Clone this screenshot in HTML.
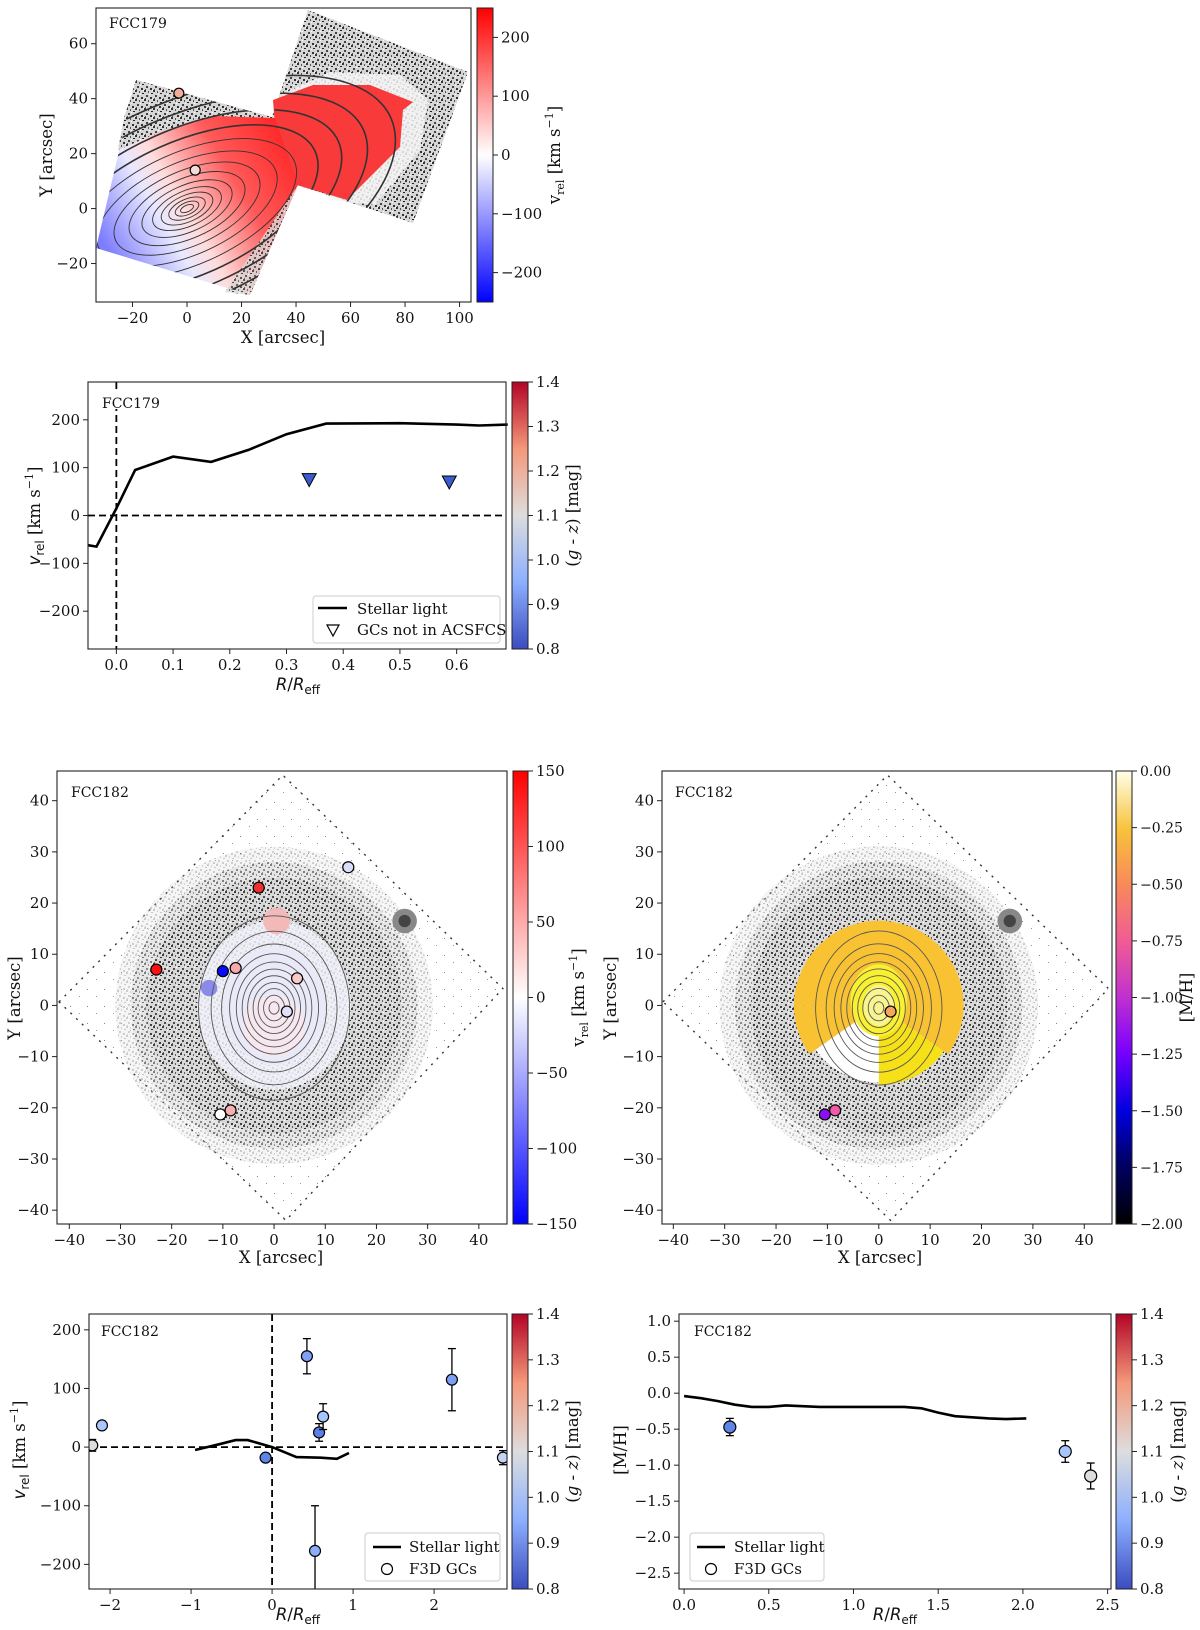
<!DOCTYPE html>
<html><head><meta charset="utf-8"><style>
html,body{margin:0;padding:0;background:#fff;}
svg{display:block;font-family:"DejaVu Serif","Liberation Serif",serif;}
</style></head><body>
<svg id="fig" width="1200" height="1630" viewBox="0 0 1200 1630" xmlns="http://www.w3.org/2000/svg">
<defs>
  <pattern id="stip" width="9" height="9" patternUnits="userSpaceOnUse">
    <rect width="9" height="9" fill="#d6d6d6"/>
    <rect x="0" y="0" width="2" height="2" fill="#333"/><rect x="4" y="1" width="1" height="2" fill="#555"/>
    <rect x="7" y="3" width="2" height="1" fill="#222"/><rect x="2" y="5" width="2" height="2" fill="#444"/>
    <rect x="6" y="7" width="2" height="2" fill="#333"/><rect x="1" y="8" width="1" height="1" fill="#555"/>
    <rect x="5" y="4" width="1" height="1" fill="#fff"/><rect x="8" y="0" width="1" height="1" fill="#fff"/>
  </pattern>
  <pattern id="stipL" width="17" height="17" patternUnits="userSpaceOnUse">
    <rect width="17" height="17" fill="#fff"/>
    <rect x="2" y="3" width="1" height="1" fill="#888"/><rect x="11" y="10" width="1" height="1" fill="#999"/>
  </pattern>
  <linearGradient id="bwr" x1="0" y1="1" x2="0" y2="0">
    <stop offset="0" stop-color="#0000ff"/><stop offset="0.5" stop-color="#ffffff"/><stop offset="1" stop-color="#ff0000"/>
  </linearGradient>
  <linearGradient id="cw" x1="0" y1="1" x2="0" y2="0">
    <stop offset="0" stop-color="#3b4cc0"/><stop offset="0.25" stop-color="#8caffe"/><stop offset="0.5" stop-color="#dddddd"/><stop offset="0.75" stop-color="#f4987a"/><stop offset="1" stop-color="#b40426"/>
  </linearGradient>
  <linearGradient id="gp" x1="0" y1="1" x2="0" y2="0">
    <stop offset="0" stop-color="#000000"/><stop offset="0.14" stop-color="#00006a"/><stop offset="0.25" stop-color="#0000e0"/>
    <stop offset="0.38" stop-color="#7a00ff"/><stop offset="0.5" stop-color="#c030d0"/><stop offset="0.62" stop-color="#f05a96"/>
    <stop offset="0.75" stop-color="#f88a5a"/><stop offset="0.87" stop-color="#f8c23a"/><stop offset="1" stop-color="#ffffe8"/>
  </linearGradient>
  <linearGradient id="velL" gradientUnits="userSpaceOnUse" x1="110" y1="255" x2="290" y2="150">
    <stop offset="0" stop-color="#7d7dff"/><stop offset="0.3" stop-color="#e8e8ff"/><stop offset="0.42" stop-color="#ffdcdc"/><stop offset="0.7" stop-color="#ff5a5a"/><stop offset="1" stop-color="#ff2a2a"/>
  </linearGradient>
  <clipPath id="fieldBoth">
    <polygon points="136,80 275,118 298,185 250,295 96,248"/>
    <polygon points="308,10 468,72 413,223 297,185 272,117"/>
  </clipPath>
</defs>
<g id="root"></g>
</svg>
<script>
// ---------- DATA ----------
const gc179X = [-3, 3];
const gc179Y = [42, 14];
const gc179Col = ['#f4ab9c', '#f3dcd6'];
const p2LineR = [-0.05, -0.035, 0.0, 0.033, 0.1, 0.167, 0.233, 0.3, 0.37, 0.5, 0.6, 0.64, 0.69];
const p2LineV = [-62, -65, 15, 95, 123, 112, 137, 170, 192, 193, 190, 188, 190];
const p2TriR = [0.34, 0.587];
const p2TriV = [75, 70];
const p2Xticks = [0.0, 0.1, 0.2, 0.3, 0.4, 0.5, 0.6];
const p2Yticks = [-200, -100, 0, 100, 200];
const gc182X = [14.5, -3, -23, -10, -7.5, 4.5, 2.5, -10.5, -8.5];
const gc182Y = [27, 23, 7, 6.7, 7.3, 5.3, -1.2, -21.3, -20.5];
const gc182VelCol = ['#dcdcfc', '#f03030', '#ff1010', '#0a0aff', '#f8aaaa', '#f9c8c8', '#e0e0f8', '#ffffff', '#f6b0b0'];
const gcMX = [2.3, -10.5, -8.5];
const gcMY = [-1.2, -21.3, -20.5];
const gcMCol = ['#f6a75e', '#8b10f2', '#f05aa8'];
const p5LineR = [-0.95, -0.65, -0.45, -0.3, 0.0, 0.3, 0.6, 0.8, 0.95];
const p5LineV = [-5, 5, 12, 12, 0, -17, -18, -20, -10];
const p5GcR = [-2.22, -2.1, -0.08, 0.43, 0.58, 0.63, 0.53, 2.22, 2.85];
const p5GcV = [3, 37, -18, 155, 25, 52, -177, 115, -18];
const p5GcErrUp = [10, 0, 0, 30, 15, 22, 77, 53, 12];
const p5GcErrDn = [10, 0, 0, 30, 15, 22, 80, 53, 12];
const p5GcCol = ['#dddddd', '#a9c6fd', '#5f84e8', '#7fa0f5', '#5b7fe5', '#a6c4fd', '#8caefa', '#7b9ff3', '#c4d5f3'];
const p5Xticks = [-2, -1, 0, 1, 2];
const p5Yticks = [-200, -100, 0, 100, 200];
const p6LineR = [0, 0.1, 0.2, 0.3, 0.4, 0.5, 0.6, 0.8, 1.0, 1.2, 1.3, 1.4, 1.5, 1.6, 1.8, 1.9, 2.02];
const p6LineM = [-0.04, -0.07, -0.11, -0.16, -0.19, -0.19, -0.17, -0.19, -0.19, -0.19, -0.19, -0.21, -0.27, -0.32, -0.35, -0.36, -0.35];
const p6GcR = [0.27, 2.25, 2.4];
const p6GcM = [-0.47, -0.81, -1.15];
const p6GcErr = [0.12, 0.15, 0.18];
const p6GcCol = ['#5f84e8', '#a6c4fd', '#dddddd'];
const p6Xticks = [0.0, 0.5, 1.0, 1.5, 2.0, 2.5];
const p6Yticks = [1.0, 0.5, 0.0, -0.5, -1.0, -1.5, -2.0, -2.5];

// ---------- HELPERS ----------
const NS = 'http://www.w3.org/2000/svg';
const root = document.getElementById('root');
function el(tag, attrs, parent) {
  const e = document.createElementNS(NS, tag);
  for (const k in attrs) e.setAttribute(k, attrs[k]);
  (parent || root).appendChild(e);
  return e;
}
function txt(s, x, y, size, anchor, parent) {
  const t = el('text', {x: x, y: y, 'font-size': size, 'text-anchor': anchor || 'middle', fill: '#111'}, parent);
  t.textContent = s;
  return t;
}
function fmt(v, d) { const s = v.toFixed(d); return v < 0 ? '\u2212' + s.slice(1) : s; }
function lin(d0, d1, r0, r1) { return v => r0 + (v - d0) / (d1 - d0) * (r1 - r0); }
function frame(x0, y0, x1, y1, name) {
  const r = el('rect', {x: x0, y: y0, width: x1 - x0, height: y1 - y0, fill: 'none', stroke: '#222', 'stroke-width': 1.1});
  
  
}
function xticks(vals, sx, yb, dec, name) {
  const g = el('g', {});
  
  
  vals.forEach(v => {
    const x = sx(v);
    el('line', {x1: x, x2: x, y1: yb, y2: yb + 5, stroke: '#222', 'stroke-width': 1}, g);
    txt(fmt(v, dec), x, yb + 21, 15, 'middle', g);
  });
}
function yticks(vals, sy, xl, dec, name) {
  const g = el('g', {});
  
  
  vals.forEach(v => {
    const y = sy(v);
    el('line', {x1: xl - 5, x2: xl, y1: y, y2: y, stroke: '#222', 'stroke-width': 1}, g);
    txt(fmt(v, dec), xl - 8, y + 5, 15, 'end', g);
  });
}
function colorbar(x0, y0, x1, y1, grad, ticks, d0, d1, dec, label, labelX, name, fs) {
  const g = el('g', {});
  
  
  el('rect', {x: x0, y: y0, width: x1 - x0, height: y1 - y0, fill: 'url(#' + grad + ')', stroke: '#222', 'stroke-width': 1}, g);
  const sy = lin(d0, d1, y1, y0);
  ticks.forEach(v => {
    const y = sy(v);
    el('line', {x1: x1, x2: x1 + 5, y1: y, y2: y, stroke: '#222'}, g);
    txt(fmt(v, dec), x1 + 8, y + 5, fs || 15, 'start', g);
  });
  const cy = (y0 + y1) / 2;
  const t = el('text', {x: labelX, y: cy, 'font-size': 16.5, 'text-anchor': 'middle', fill: '#111', transform: 'rotate(-90 ' + labelX + ' ' + cy + ')'}, g);
  t.innerHTML = label;
}
function ylabel(html, x, cy, name) {
  const t = el('text', {x: x, y: cy, 'font-size': 16.5, 'text-anchor': 'middle', fill: '#111', transform: 'rotate(-90 ' + x + ' ' + cy + ')'});
  t.innerHTML = html;
  
  
}
function xlabel(html, cx, y, name) {
  const t = el('text', {x: cx, y: y, 'font-size': 16.5, 'text-anchor': 'middle', fill: '#111'});
  t.innerHTML = html;
  
  
}
const SANS = 'font-family="DejaVu Sans, sans-serif"';
const RREFF = '<tspan font-style="italic" ' + SANS + '>R</tspan><tspan ' + SANS + '>/</tspan><tspan font-style="italic" ' + SANS + '>R</tspan><tspan font-size="12" dy="4" ' + SANS + '>eff</tspan>';
const VREL = '<tspan font-style="italic" ' + SANS + '>v</tspan><tspan font-size="12" dy="4" ' + SANS + '>rel</tspan><tspan dy="-4"> [km s</tspan><tspan font-size="11" dy="-7">\u22121</tspan><tspan dy="7">]</tspan>';
const VRELMAP = 'v<tspan font-size="11" dy="4">rel</tspan><tspan dy="-4"> [km s</tspan><tspan font-size="11" dy="-7">\u22121</tspan><tspan dy="7">]</tspan>';
const GZ = '(<tspan font-style="italic">g</tspan> - <tspan font-style="italic">z</tspan>) [mag]';

// =============== PANEL 1: FCC179 map ===============
(function () {
  const X0 = 96, X1 = 471, Y0 = 8, Y1 = 302;
  const sx = lin(-33.4, 104.2, X0, X1), sy = lin(-34, 73, Y1, Y0);
  const cp = el('clipPath', {id: 'cp1'});
  el('rect', {x: X0, y: Y0, width: X1 - X0, height: Y1 - Y0}, cp);
  const g = el('g', {'clip-path': 'url(#cp1)'});
  
  
  el('polygon', {points: '308,10 468,72 413,223 297,185 272,117', fill: 'url(#stip)'}, g);
  el('polygon', {points: '280,95 330,72 400,75 428,100 420,150 375,205 330,200', fill: '#f4f4f4', opacity: 0.85}, g);
  el('polygon', {points: '273,100 313,85 370,85 413,102 403,110 400,147 347,200 297,185 277,153', fill: '#f83a3a'}, g);
  el('polygon', {points: '136,80 275,118 298,185 250,295 96,248', fill: 'url(#velL)'}, g);
  el('polygon', {points: '136,80 275,118 215,116 160,132 118,150 124,118', fill: 'url(#stip)'}, g);
  el('polygon', {points: '225,292 298,185 250,295', fill: 'url(#stip)', opacity: 0.8}, g);
  const cg = el('g', {fill: 'none', stroke: '#333', 'stroke-width': 0.9, 'clip-path': 'url(#fieldBoth)'}, g);
  const cx = sx(0), cy = sy(0);
  [6, 11, 17, 24, 32, 42, 54, 68, 84, 102, 122, 144, 168, 194].forEach((r, i) => {
    el('ellipse', {cx: cx, cy: cy, rx: r * 1.15, ry: r * 0.55, transform: 'rotate(-24 ' + cx + ' ' + cy + ')', 'stroke-width': i > 9 ? 1.6 : 0.9}, cg);
  });
  gc179X.forEach((x, i) => {
    const c = el('circle', {cx: sx(x), cy: sy(gc179Y[i]), r: 5, fill: gc179Col[i], stroke: '#000', 'stroke-width': 1.2});
    
    
  });
  frame(X0, Y0, X1, Y1, 'fcc179-map-axes');
  txt('FCC179', 109, 28, 14).setAttribute('text-anchor', 'start');
  xticks([-20, 0, 20, 40, 60, 80, 100], sx, Y1, 0, 'fcc179-map-x-ticks');
  yticks([-20, 0, 20, 40, 60], sy, X0, 0, 'fcc179-map-y-ticks');
  xlabel('X [arcsec]', 283, 343, 'fcc179-map-x-title');
  ylabel('Y [arcsec]', 52, 155, 'fcc179-map-y-title');
  colorbar(477, 8, 493, 302, 'bwr', [-200, -100, 0, 100, 200], -250, 250, 0, VRELMAP, 560, 'fcc179-velocity-colorbar');
})();

// =============== PANEL 2: FCC179 profile ===============
(function () {
  const X0 = 88, X1 = 506, Y0 = 382, Y1 = 649;
  const sx = lin(-0.05, 0.687, X0, X1), sy = lin(-279, 279, Y1, Y0);
  el('line', {x1: X0, x2: X1, y1: sy(0), y2: sy(0), stroke: '#000', 'stroke-width': 1.8, 'stroke-dasharray': '7,4'});
  el('line', {x1: sx(0), x2: sx(0), y1: Y0, y2: Y1, stroke: '#000', 'stroke-width': 1.8, 'stroke-dasharray': '7,4'});
  const pts = p2LineR.map((r, i) => sx(r).toFixed(1) + ',' + sy(p2LineV[i]).toFixed(1)).join(' ');
  const pl = el('polyline', {points: pts, fill: 'none', stroke: '#000', 'stroke-width': 2.6});
  
  
  p2TriR.forEach((r, i) => {
    const x = sx(r), y = sy(p2TriV[i]);
    const t = el('polygon', {points: (x - 7) + ',' + (y - 6) + ' ' + (x + 7) + ',' + (y - 6) + ' ' + x + ',' + (y + 7), fill: '#3d5ccc', stroke: '#000', 'stroke-width': 1});
    
    
  });
  frame(X0, Y0, X1, Y1, 'fcc179-profile-axes');
  el('rect', {x: X0 + 12, y: Y0 + 7, width: 64, height: 20, fill: '#fff'});
  txt('FCC179', 102, 408, 14).setAttribute('text-anchor', 'start');
  xticks(p2Xticks, sx, Y1, 1, 'fcc179-profile-x-ticks');
  yticks(p2Yticks, sy, X0, 0, 'fcc179-profile-y-ticks');
  xlabel(RREFF, 298, 690, 'fcc179-profile-x-title');
  ylabel(VREL, 40, 516, 'fcc179-profile-y-title');
  const lg = el('g', {});
  
  
  el('rect', {x: 313, y: 596, width: 187, height: 47, rx: 3, fill: '#fff', stroke: '#ccc'}, lg);
  el('line', {x1: 318, x2: 347, y1: 608, y2: 608, stroke: '#000', 'stroke-width': 2.6}, lg);
  txt('Stellar light', 357, 614, 15, 'start', lg);
  el('polygon', {points: '327,625 339,625 333,636', fill: '#fff', stroke: '#000', 'stroke-width': 1.2}, lg);
  txt('GCs not in ACSFCS', 357, 635, 15, 'start', lg);
  colorbar(512, 382, 528, 649, 'cw', [0.8, 0.9, 1.0, 1.1, 1.2, 1.3, 1.4], 0.8, 1.4, 1, GZ, 578, 'fcc179-color-colorbar');
})();

// =============== shared FCC182 map background ===============
function fcc182Map(X0, Y0, X1, Y1, sx, sy, name, inner) {
  const cid = name + '-clip';
  const cp = el('clipPath', {id: cid});
  el('rect', {x: X0, y: Y0, width: X1 - X0, height: Y1 - Y0}, cp);
  const g = el('g', {'clip-path': 'url(#' + cid + ')'});
  
  
  const dia = [[-42, 0.7], [1.7, 45], [44.7, 3.3], [2.3, -42]].map(p => sx(p[0]) + ',' + sy(p[1])).join(' ');
  el('polygon', {points: dia, fill: 'url(#stipL)', stroke: '#333', 'stroke-width': 1.4, 'stroke-dasharray': '2,6'}, g);
  const cx = sx(0), cy = sy(0), u = sx(1) - sx(0);
  el('circle', {cx: cx, cy: cy, r: 31 * u, fill: 'url(#stip)', opacity: 0.25}, g);
  el('circle', {cx: cx, cy: cy, r: 28 * u, fill: 'url(#stip)', opacity: 0.5}, g);
  el('circle', {cx: cx, cy: cy, r: 25 * u, fill: 'url(#stip)', opacity: 0.85}, g);
  inner(g, cx, cy, u);
  el('circle', {cx: sx(25.5), cy: sy(16.5), r: 2.4 * u, fill: '#888'}, g);
  el('circle', {cx: sx(25.5), cy: sy(16.5), r: 1.2 * u, fill: '#444'}, g);
}

// =============== PANEL 3: FCC182 velocity map ===============
(function () {
  const X0 = 57, X1 = 507, Y0 = 771, Y1 = 1224;
  const sx = lin(-42.4, 45.5, X0, X1), sy = lin(-42.7, 45.8, Y1, Y0);
  fcc182Map(X0, Y0, X1, Y1, sx, sy, 'fcc182-velocity-map', (g, cx, cy, u) => {
    el('ellipse', {cx: cx, cy: cy, rx: 15 * u, ry: 16.5 * u, fill: '#f2f2fb', opacity: 0.85}, g);
    el('ellipse', {cx: cx, cy: cy, rx: 10 * u, ry: 11.5 * u, fill: '#e9e9f8'}, g);
    el('ellipse', {cx: cx, cy: cy + 4 * u, rx: 6 * u, ry: 6 * u, fill: '#f6e8ee'}, g);
    el('circle', {cx: sx(0.5), cy: sy(16.5), r: 2.6 * u, fill: '#f3b8b8'}, g);
    el('circle', {cx: sx(-12.7), cy: sy(3.4), r: 1.6 * u, fill: '#8a8ae8'}, g);
    const cg = el('g', {fill: 'none', stroke: '#555', 'stroke-width': 0.9}, g);
    [1.2, 2.5, 3.8, 5, 6.3, 7.6, 9, 10.6, 12.5, 15, 18].forEach(r => {
      el('ellipse', {cx: cx, cy: cy + 0.5 * u, rx: r * 0.82 * u, ry: r * u}, cg);
    });
  });
  gc182X.forEach((x, i) => {
    const c = el('circle', {cx: sx(x), cy: sy(gc182Y[i]), r: 5.5, fill: gc182VelCol[i], stroke: '#000', 'stroke-width': 1.2});
    
    
  });
  frame(X0, Y0, X1, Y1, 'fcc182-velocity-map-axes');
  txt('FCC182', 71, 797, 14).setAttribute('text-anchor', 'start');
  xticks([-40, -30, -20, -10, 0, 10, 20, 30, 40], sx, Y1, 0, 'fcc182-vmap-x-ticks');
  yticks([-40, -30, -20, -10, 0, 10, 20, 30, 40], sy, X0, 0, 'fcc182-vmap-y-ticks');
  xlabel('X [arcsec]', 281, 1263, 'fcc182-vmap-x-title');
  ylabel('Y [arcsec]', 20, 998, 'fcc182-vmap-y-title');
  colorbar(513, 771, 528, 1224, 'bwr', [-150, -100, -50, 0, 50, 100, 150], -150, 150, 0, VRELMAP, 584, 'fcc182-velocity-colorbar');
})();

// =============== PANEL 4: FCC182 metallicity map ===============
(function () {
  const X0 = 662, X1 = 1112, Y0 = 771, Y1 = 1224;
  const sx = lin(-42.2, 45.4, X0, X1), sy = lin(-42.7, 45.8, Y1, Y0);
  fcc182Map(X0, Y0, X1, Y1, sx, sy, 'fcc182-metallicity-map', (g, cx, cy, u) => {
    const R = 16.5 * u;
    function sector(a0, a1, r, fill) {
      const p0x = cx + r * Math.cos(a0), p0y = cy + r * Math.sin(a0);
      const p1x = cx + r * Math.cos(a1), p1y = cy + r * Math.sin(a1);
      const large = ((a1 - a0 + 4 * Math.PI) % (2 * Math.PI)) > Math.PI ? 1 : 0;
      el('path', {d: 'M' + cx + ',' + cy + ' L' + p0x + ',' + p0y + ' A' + r + ',' + r + ' 0 ' + large + ' 1 ' + p1x + ',' + p1y + ' Z', fill: fill}, g);
    }
    const D = Math.PI / 180;
    sector(-180 * D, 35 * D, R, '#f8c232');
    sector(35 * D, 90 * D, 15.5 * u, '#f6e018');
    sector(145 * D, 180 * D, R, '#f8c232');
    sector(90 * D, 145 * D, 15 * u, '#ffffff');
    el('ellipse', {cx: cx, cy: cy - 1 * u, rx: 5.5 * u, ry: 7 * u, fill: '#f8f030'}, g);
    el('ellipse', {cx: cx, cy: cy, rx: 3 * u, ry: 4 * u, fill: '#f8f490'}, g);
    const cg = el('g', {fill: 'none', stroke: '#555', 'stroke-width': 0.9}, g);
    [1.2, 2.5, 3.8, 5, 6.3, 7.6, 9, 10.6, 12.5, 15].forEach(r => {
      el('ellipse', {cx: cx, cy: cy + 0.5 * u, rx: r * 0.82 * u, ry: r * u}, cg);
    });
  });
  gcMX.forEach((x, i) => {
    const c = el('circle', {cx: sx(x), cy: sy(gcMY[i]), r: 5.5, fill: gcMCol[i], stroke: '#000', 'stroke-width': 1.2});
    
    
  });
  frame(X0, Y0, X1, Y1, 'fcc182-metallicity-map-axes');
  txt('FCC182', 675, 797, 14).setAttribute('text-anchor', 'start');
  xticks([-40, -30, -20, -10, 0, 10, 20, 30, 40], sx, Y1, 0, 'fcc182-mmap-x-ticks');
  yticks([-40, -30, -20, -10, 0, 10, 20, 30, 40], sy, X0, 0, 'fcc182-mmap-y-ticks');
  xlabel('X [arcsec]', 880, 1263, 'fcc182-mmap-x-title');
  ylabel('Y [arcsec]', 616, 998, 'fcc182-mmap-y-title');
  colorbar(1116, 771, 1132, 1224, 'gp', [0, -0.25, -0.5, -0.75, -1.0, -1.25, -1.5, -1.75, -2.0], -2, 0, 2, '[M/H]', 1192, 'fcc182-metallicity-colorbar', 14);
})();

// =============== PANEL 5: FCC182 velocity profile ===============
(function () {
  const X0 = 89, X1 = 507, Y0 = 1314, Y1 = 1589;
  const sx = lin(-2.26, 2.9, X0, X1), sy = lin(-242, 227, Y1, Y0);
  const cp = el('clipPath', {id: 'cp5'});
  el('rect', {x: X0, y: Y0, width: X1 - X0, height: Y1 - Y0}, cp);
  el('line', {x1: X0, x2: X1, y1: sy(0), y2: sy(0), stroke: '#000', 'stroke-width': 1.8, 'stroke-dasharray': '7,4'});
  el('line', {x1: sx(0), x2: sx(0), y1: Y0, y2: Y1, stroke: '#000', 'stroke-width': 1.8, 'stroke-dasharray': '7,4'});
  const pts = p5LineR.map((r, i) => sx(r).toFixed(1) + ',' + sy(p5LineV[i]).toFixed(1)).join(' ');
  const pl = el('polyline', {points: pts, fill: 'none', stroke: '#000', 'stroke-width': 2.6});
  
  
  const pg = el('g', {'clip-path': 'url(#cp5)'});
  p5GcR.forEach((r, i) => {
    const x = sx(r), v = p5GcV[i], y = sy(v);
    if (p5GcErrUp[i] > 0) {
      const ya = sy(v + p5GcErrUp[i]), yb = sy(v - p5GcErrDn[i]);
      el('line', {x1: x, x2: x, y1: ya, y2: yb, stroke: '#000', 'stroke-width': 1.3}, pg);
      el('line', {x1: x - 4, x2: x + 4, y1: ya, y2: ya, stroke: '#000', 'stroke-width': 1.3}, pg);
      el('line', {x1: x - 4, x2: x + 4, y1: yb, y2: yb, stroke: '#000', 'stroke-width': 1.3}, pg);
    }
    const c = el('circle', {cx: x, cy: y, r: 5.5, fill: p5GcCol[i], stroke: '#000', 'stroke-width': 1.2}, pg);
    
    
  });
  frame(X0, Y0, X1, Y1, 'fcc182-vprofile-axes');
  txt('FCC182', 101, 1336, 14).setAttribute('text-anchor', 'start');
  xticks(p5Xticks, sx, Y1, 0, 'fcc182-vprofile-x-ticks');
  yticks(p5Yticks, sy, X0, 0, 'fcc182-vprofile-y-ticks');
  xlabel(RREFF, 298, 1620, 'fcc182-vprofile-x-title');
  ylabel(VREL, 25, 1450, 'fcc182-vprofile-y-title');
  const lg = el('g', {});
  
  
  el('rect', {x: 365, y: 1533, width: 135, height: 48, rx: 3, fill: '#fff', stroke: '#ccc'}, lg);
  el('line', {x1: 373, x2: 401, y1: 1547, y2: 1547, stroke: '#000', 'stroke-width': 2.6}, lg);
  txt('Stellar light', 409, 1552, 15, 'start', lg);
  el('circle', {cx: 387, cy: 1569, r: 5.5, fill: '#fff', stroke: '#000', 'stroke-width': 1.2}, lg);
  txt('F3D GCs', 409, 1574, 15, 'start', lg);
  colorbar(512, 1314, 528, 1589, 'cw', [0.8, 0.9, 1.0, 1.1, 1.2, 1.3, 1.4], 0.8, 1.4, 1, GZ, 578, 'fcc182-vprofile-colorbar');
})();

// =============== PANEL 6: FCC182 metallicity profile ===============
(function () {
  const X0 = 679, X1 = 1111, Y0 = 1314, Y1 = 1589;
  const sx = lin(-0.03, 2.52, X0, X1), sy = lin(-2.72, 1.1, Y1, Y0);
  const pts = p6LineR.map((r, i) => sx(r).toFixed(1) + ',' + sy(p6LineM[i]).toFixed(1)).join(' ');
  const pl = el('polyline', {points: pts, fill: 'none', stroke: '#000', 'stroke-width': 2.6, 'stroke-linejoin': 'round'});
  
  
  p6GcR.forEach((r, i) => {
    const x = sx(r), y = sy(p6GcM[i]);
    const ya = sy(p6GcM[i] + p6GcErr[i]), yb = sy(p6GcM[i] - p6GcErr[i]);
    el('line', {x1: x, x2: x, y1: ya, y2: yb, stroke: '#000', 'stroke-width': 1.3});
    el('line', {x1: x - 4, x2: x + 4, y1: ya, y2: ya, stroke: '#000', 'stroke-width': 1.3});
    el('line', {x1: x - 4, x2: x + 4, y1: yb, y2: yb, stroke: '#000', 'stroke-width': 1.3});
    const c = el('circle', {cx: x, cy: y, r: 6, fill: p6GcCol[i], stroke: '#000', 'stroke-width': 1.2});
    
    
  });
  frame(X0, Y0, X1, Y1, 'fcc182-mprofile-axes');
  txt('FCC182', 694, 1336, 14).setAttribute('text-anchor', 'start');
  xticks(p6Xticks, sx, Y1, 1, 'fcc182-mprofile-x-ticks');
  yticks(p6Yticks, sy, X0, 1, 'fcc182-mprofile-y-ticks');
  xlabel(RREFF, 895, 1620, 'fcc182-mprofile-x-title');
  ylabel('[M/H]', 626, 1450, 'fcc182-mprofile-y-title');
  const lg = el('g', {});
  
  
  el('rect', {x: 690, y: 1533, width: 134, height: 48, rx: 3, fill: '#fff', stroke: '#ccc'}, lg);
  el('line', {x1: 697, x2: 725, y1: 1547, y2: 1547, stroke: '#000', 'stroke-width': 2.6}, lg);
  txt('Stellar light', 734, 1552, 15, 'start', lg);
  el('circle', {cx: 711, cy: 1569, r: 5.5, fill: '#fff', stroke: '#000', 'stroke-width': 1.2}, lg);
  txt('F3D GCs', 734, 1574, 15, 'start', lg);
  colorbar(1116, 1314, 1132, 1589, 'cw', [0.8, 0.9, 1.0, 1.1, 1.2, 1.3, 1.4], 0.8, 1.4, 1, GZ, 1183, 'fcc182-mprofile-colorbar');
})();
</script>
</body></html>
